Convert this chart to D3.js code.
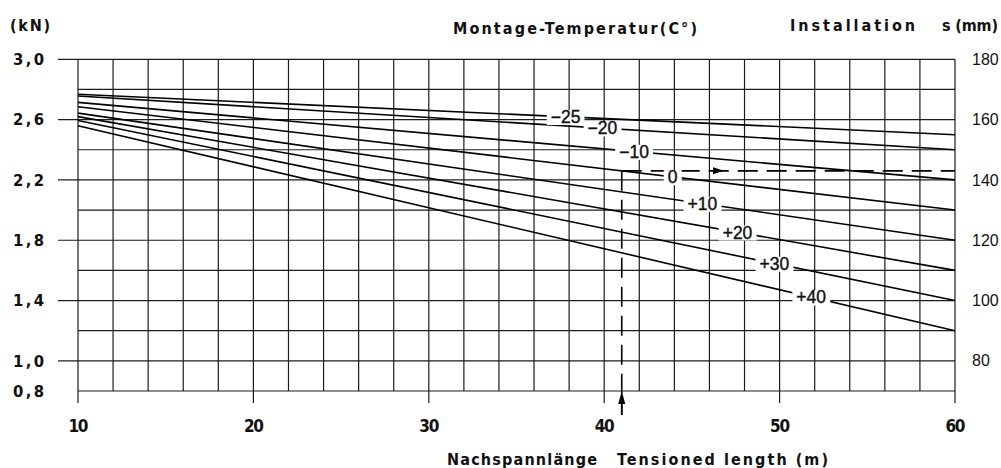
<!DOCTYPE html>
<html><head><meta charset="utf-8">
<script src="https://cdn.jsdelivr.net/npm/d3@7"></script>
<style>
body{margin:0;background:#fff;}
svg{display:block;}
.t{font-family:"DejaVu Sans Condensed","DejaVu Sans",sans-serif;font-weight:bold;fill:#111;}
.r{font-family:"Liberation Sans",Arial,sans-serif;fill:#111;}
</style></head><body>
<svg id="c" width="1001" height="468"></svg>
<script>
// ---- data ----
const lengthTicks = [10, 20, 30, 40, 50, 60];            // m
const forceTicks = [3.0, 2.6, 2.2, 1.8, 1.4, 1.0, 0.8];  // kN
const strokeTicks = [180, 160, 140, 120, 100, 80];       // mm
const tempLabels = ["−25", "−20", "−10", "0", "+10", "+20", "+30", "+40"];
const forceAt10m = [2.768, 2.757, 2.714, 2.685, 2.643, 2.620, 2.594, 2.559];
const forceAt60m = [2.50, 2.40, 2.20, 2.00, 1.80, 1.60, 1.40, 1.20];
const labelAtLength = [37.8, 39.9, 41.7, 43.9, 45.6, 47.6, 49.7, 51.8];
const exampleLength = 41;
const exampleForce = 2.26;

// ---- scales ----
const x = d3.scaleLinear().domain([10, 60]).range([78, 955]);
const y = d3.scaleLinear().domain([0.8, 3.0]).range([391, 59.3]);
const yS = d3.scaleLinear().domain([70, 180]).range([391, 59.3]);

const svg = d3.select("#c");
const gridColor = "#1c1c1c";

// vertical grid
const g = svg.append("g");
g.selectAll(".vg").data(d3.range(10, 61, 2)).join("line")
  .attr("x1", d => x(d)).attr("x2", d => x(d))
  .attr("y1", y(3.0))
  .attr("y2", d => (d % 10 === 0) ? 403 : y(0.8))
  .attr("stroke", gridColor).attr("stroke-width", 1.2);
// horizontal grid
g.selectAll(".hg").data(d3.range(0, 12).map(i => +(0.8 + i * 0.2).toFixed(1))).join("line")
  .attr("x1", d => forceTicks.includes(d) && d !== 0.8 ? 58 : x(10))
  .attr("x2", x(60))
  .attr("y1", d => y(d)).attr("y2", d => y(d))
  .attr("stroke", gridColor).attr("stroke-width", 1.2);

// curves
const lineGen = d3.line().x(d => x(d[0])).y(d => y(d[1]));
svg.append("g").selectAll("path").data(tempLabels.map((t, i) => [[10, forceAt10m[i]], [60, forceAt60m[i]]]))
  .join("path").attr("d", lineGen).attr("fill", "none")
  .attr("stroke", "#000").attr("stroke-width", 1.6);

// example (dashed) reading lines
const ex = svg.append("g");
ex.append("line").attr("x1", x(exampleLength)).attr("x2", x(exampleLength))
  .attr("y1", y(exampleForce)).attr("y2", 415)
  .attr("stroke", "#000").attr("stroke-width", 1.6).attr("stroke-dasharray", "20,9");
ex.append("line").attr("x1", x(exampleLength)).attr("x2", x(60))
  .attr("y1", y(exampleForce)).attr("y2", y(exampleForce))
  .attr("stroke", "#000").attr("stroke-width", 1.6).attr("stroke-dasharray", "20,9");
const ax = x(exampleLength), ay = y(0.8);
ex.append("path").attr("d", `M${ax},${ay} L${ax - 3.5},${ay + 13} L${ax + 3.5},${ay + 13} Z`).attr("fill", "#000");
ex.append("line").attr("x1", ax).attr("x2", ax).attr("y1", ay + 12).attr("y2", 415).attr("stroke", "#000").attr("stroke-width", 1.6);
const hx = 724, hy = y(exampleForce);
ex.append("path").attr("d", `M${hx},${hy} L${hx - 11},${hy - 3.5} L${hx - 11},${hy + 3.5} Z`).attr("fill", "#000");

// curve labels with white backing
const lab = svg.append("g").selectAll("g").data(tempLabels).join("g")
  .attr("transform", (t, i) => {
    const L = labelAtLength[i];
    const f = forceAt10m[i] + (forceAt60m[i] - forceAt10m[i]) * (L - 10) / 50;
    return `translate(${x(L)},${y(f)})`;
  });
lab.append("rect").attr("fill", "#fff");
lab.append("text").attr("class", "r").attr("text-anchor", "middle").attr("dy", "0.36em")
  .style("font-size", "17.5px").attr("stroke", "#111").attr("stroke-width", 0.4).text(d => d);
lab.each(function () {
  const bb = d3.select(this).select("text").node().getBBox();
  d3.select(this).select("rect").attr("x", bb.x - 4).attr("y", bb.y + 3).attr("width", bb.width + 8).attr("height", bb.height - 5);
});

// axes (labels only)
const fmt = d => d3.format(".1f")(d).replace(".", ",");
const la = svg.append("g").attr("transform", "translate(44,0)")
  .call(d3.axisLeft(y).tickValues(forceTicks).tickSize(0).tickPadding(0).tickFormat(fmt));
la.select(".domain").remove();
la.selectAll("text").attr("class", "t").attr("font-family", null).attr("font-size", null)
  .style("font-size", "16.5px").attr("textLength", 31).attr("lengthAdjust", "spacing");

const ra = svg.append("g").attr("transform", "translate(972,0)")
  .call(d3.axisRight(yS).tickValues(strokeTicks).tickSize(0).tickPadding(0));
ra.select(".domain").remove();
ra.selectAll("text").attr("class", "r").attr("font-family", null).attr("font-size", null)
  .style("font-size", "16px");

const ba = svg.append("g").attr("transform", "translate(0,420)")
  .call(d3.axisBottom(x).tickValues(lengthTicks).tickSize(0).tickPadding(0));
ba.select(".domain").remove();
ba.selectAll("text").attr("class", "t").attr("font-family", null).attr("font-size", null)
  .style("font-size", "17px").attr("textLength", 20).attr("lengthAdjust", "spacing");

// titles
const titles = [
  {s: "(kN)", x: 10, y: 31, w: 40},
  {s: "Montage-Temperatur(C°)", x: 453, y: 33.5, w: 244},
  {s: "Installation", x: 790, y: 30.5, w: 125},
  {s: "s (mm)", x: 942, y: 30.5, w: 56},
  {s: "Nachspannlänge", x: 447, y: 465, w: 150},
  {s: "Tensioned length (m)", x: 617, y: 465, w: 211}
];
svg.append("g").selectAll("text").data(titles).join("text").attr("class", "t")
  .attr("x", d => d.x).attr("y", d => d.y).attr("textLength", d => d.w).attr("lengthAdjust", "spacing")
  .style("font-size", "16px").text(d => d.s);
</script>
</body></html>
